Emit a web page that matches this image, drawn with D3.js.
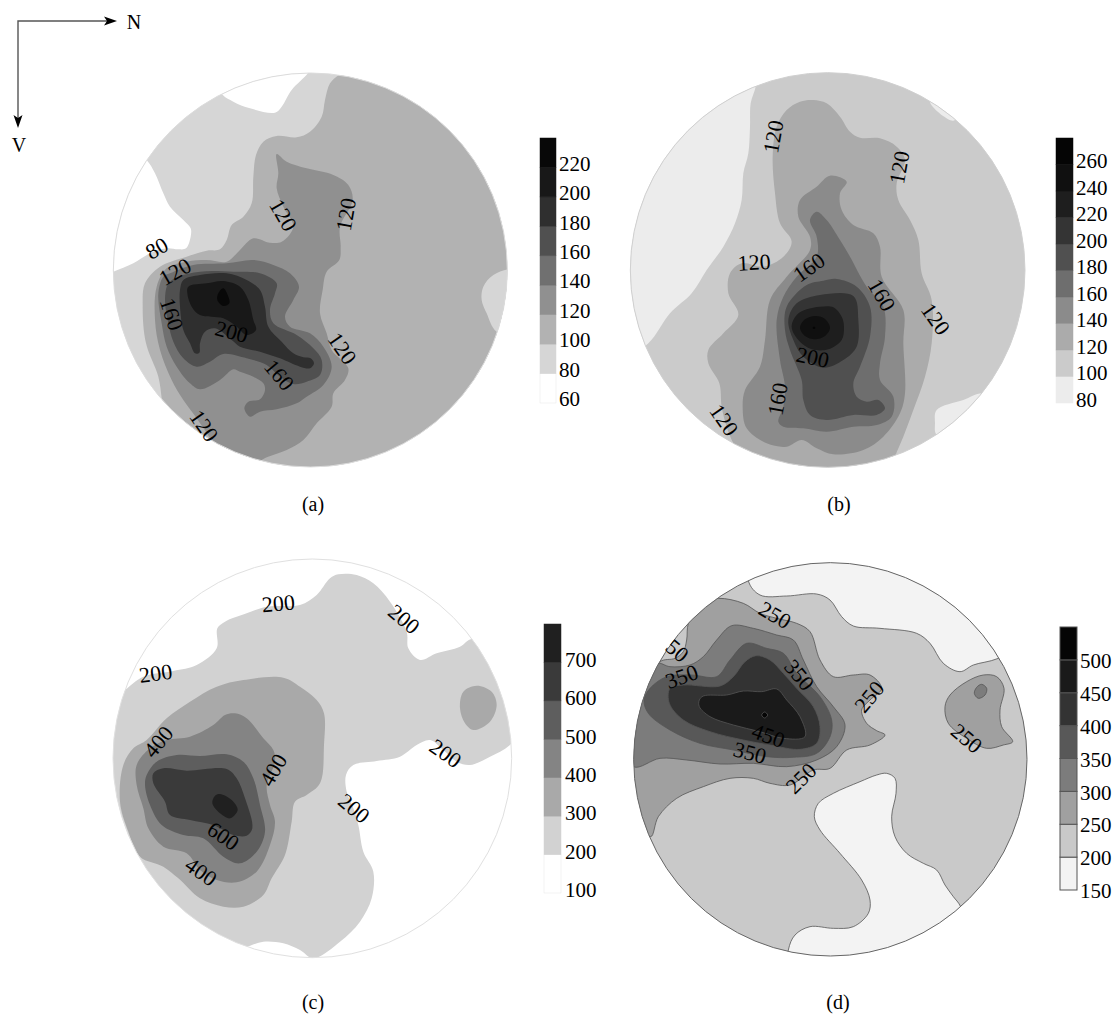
<!DOCTYPE html>
<html><head><meta charset="utf-8">
<script src="https://cdn.jsdelivr.net/npm/d3@7"></script>
<style>html,body{margin:0;padding:0;background:#fff}svg{display:block}text{font-family:"Liberation Serif",serif;fill:#000}</style>
</head><body><svg id="c" width="1113" height="1017"></svg>
<script>
// Legend values
const aLevels=[60,80,100,120,140,160,180,200,220,240];
const aColors=["#ffffff","#d6d6d6","#b2b2b2","#909090","#707070","#505050","#2f2f2f","#181818","#080808"];
const bLevels=[80,100,120,140,160,180,200,220,240,260,280];
const bColors=["#ececec","#cbcbcb","#ababab","#8b8b8b","#6e6e6e","#505050","#343434","#1e1e1e","#101010","#050505"];
const cLevels=[100,200,300,400,500,600,700,800];
const cColors=["#ffffff","#d2d2d2","#a9a9a9","#848484","#5e5e5e","#3a3a3a","#202020"];
const dLevels=[150,200,250,300,350,400,450,500,550];
const dColors=["#f3f3f3","#c9c9c9","#a0a0a0","#7c7c7c","#585858","#333333","#1a1a1a","#050505"];

// Contour outlines, panel (a)
const a60top=[[365,100],[400,125],[450,145],[525,158],[545,140],[575,90],[625,38],[640,10],[500,10],[370,50]];
const a60left=[[140,300],[165,340],[190,400],[210,440],[250,480],[272,505],[272,530],[258,565],[235,568],[200,565],[150,580],[100,610],[40,635],[0,650],[0,300],[90,260]];
const a100=[[718,44],[690,70],[675,120],[665,170],[630,215],[590,232],[530,228],[490,245],[468,285],[460,350],[455,430],[430,470],[395,495],[380,540],[360,568],[320,572],[260,590],[180,620],[135,670],[128,740],[138,850],[175,950],[185,1015],[190,1060],[300,1300],[1300,1300],[1300,0],[800,0]];
const a80right=[[1240,625],[1180,645],[1150,680],[1145,720],[1160,760],[1190,815],[1280,830],[1290,630]];
const a120=[[530,282],[560,305],[620,325],[700,345],[745,375],[758,420],[720,500],[722,560],[718,600],[680,635],[668,690],[660,760],[680,820],[695,870],[745,925],[735,960],[700,1000],[695,1040],[650,1090],[610,1140],[560,1170],[480,1203],[430,1260],[390,1240],[340,1150],[290,1075],[250,1020],[215,960],[180,870],[165,780],[170,680],[200,625],[260,605],[320,600],[380,605],[420,570],[460,535],[510,548],[545,545],[580,500],[550,440],[530,385],[535,340]];
const a140=[[210,640],[280,615],[380,610],[460,600],[520,615],[570,640],[597,680],[580,720],[555,770],[570,800],[630,820],[670,860],[695,920],[670,975],[620,1010],[590,1030],[530,1048],[480,1055],[450,1070],[433,1045],[445,1025],[480,1018],[495,990],[490,970],[460,950],[420,935],[400,928],[360,960],[300,988],[270,970],[230,920],[200,860],[185,790],[175,700],[190,650]];
const a160=[[235,650],[300,635],[400,635],[480,640],[530,670],[525,700],[510,750],[520,790],[590,825],[640,865],[665,900],[660,945],[620,965],[580,972],[540,950],[500,915],[440,895],[370,882],[330,905],[290,920],[250,895],[220,845],[205,790],[195,720],[205,670]];
const a180=[[250,660],[300,645],[380,640],[440,660],[480,690],[495,740],[505,800],[545,845],[580,880],[610,892],[632,895],[642,910],[630,925],[600,920],[540,895],[480,875],[420,860],[395,840],[345,805],[315,815],[300,850],[298,878],[285,880],[270,850],[250,810],[240,740],[240,690]];
const a200=[[265,680],[320,670],[370,663],[420,680],[445,720],[460,780],[468,810],[440,825],[410,800],[370,775],[300,765],[275,740],[262,700]];
const a220=[[370,685],[385,710],[388,730],[370,738],[352,720],[355,700]];
const aLabels=[["80",170,565,-30],["120",225,635,-30],["160",215,762,72],["200",395,815,15],["120",550,465,60],["120",738,463,-80],["120",727,865,55],["160",538,945,50],["120",312,1097,55]];

// Panel (b)
const b80left=[[408,75],[392,130],[390,200],[385,280],[370,340],[365,420],[345,490],[310,560],[260,630],[215,700],[150,760],[85,850],[0,900],[0,0],[408,0]];
const b80right=[[1090,1000],[1030,1020],[950,1050],[945,1090],[950,1125],[1100,1200],[1200,1050]];
const b80sliver=[[930,125],[1000,182],[1020,150],[960,100]];
const b120=[[580,120],[620,130],[660,170],[690,215],[720,233],[780,235],[830,260],[855,300],[830,370],[835,420],[870,480],[895,540],[905,640],[935,720],[935,850],[915,950],[880,1050],[850,1130],[825,1190],[800,1280],[400,1260],[340,1150],[320,1100],[305,1040],[298,970],[265,910],[265,870],[310,820],[355,765],[325,700],[330,640],[365,610],[430,620],[490,590],[515,545],[480,490],[465,400],[458,290],[470,200],[500,150],[540,125]];
const b140=[[630,347],[680,365],[660,400],[665,450],[700,495],[760,520],[780,560],[785,650],[850,750],[850,850],[855,1000],[840,1060],[790,1130],[730,1170],[640,1183],[590,1165],[545,1140],[500,1160],[440,1150],[380,1105],[368,1040],[375,990],[420,920],[435,840],[450,720],[500,650],[570,570],[570,530],[535,470],[540,420],[590,380]];
const b160=[[590,455],[620,480],[660,540],[690,590],[740,680],[790,740],[795,830],[780,910],[780,960],[820,1010],[815,1070],[770,1095],[700,1100],[620,1115],[550,1105],[490,1100],[475,1085],[490,1040],[495,980],[480,900],[470,780],[490,710],[530,650],[590,590],[590,530],[570,480]];
const b180=[[650,657],[710,680],[750,740],[750,830],[720,920],[700,970],[710,1010],[740,1025],[775,1020],[795,1045],[770,1065],[700,1065],[620,1080],[570,1065],[550,1020],[545,960],[510,870],[495,810],[500,740],[560,675],[610,662]];
const b200=[[700,708],[715,780],[710,860],[670,900],[610,923],[550,890],[520,840],[505,780],[530,730],[600,705]];
const b220=[[600,740],[640,742],[665,770],[672,800],[665,840],[625,868],[575,868],[535,840],[515,800],[530,765],[560,748]];
const b240=[[585,768],[612,775],[630,803],[615,828],[585,838],[555,828],[540,803],[555,778]];
const b260=[[582,800],[586,803],[582,807],[578,803]];
const bLabels=[["120",460,230,-80],["120",838,322,-80],["120",402,607,-3],["160",567,622,-35],["160",785,705,60],["120",947,777,55],["200",578,892,12],["160",473,1017,-80],["120",312,1080,55]];

// Panel (c)
const c200=[[715,88],[770,90],[820,115],[870,170],[920,260],[925,310],[960,345],[1010,325],[1080,305],[1115,282],[1200,300],[1300,500],[1232,598],[1170,635],[1110,660],[1070,650],[1030,615],[990,585],[950,600],[900,635],[830,648],[760,660],[738,690],[740,740],[760,790],[775,840],[790,920],[820,980],[815,1060],[780,1130],[720,1190],[640,1240],[600,1215],[550,1195],[490,1190],[430,1207],[300,1200],[0,800],[0,500],[75,435],[130,395],[220,378],[290,360],[350,310],[352,250],[375,230],[440,205],[500,185],[600,180],[650,150],[690,100]];
const c300=[[550,398],[600,425],[650,465],[672,505],[672,600],[660,715],[620,750],[585,770],[575,830],[555,930],[515,1000],[490,1050],[430,1085],[370,1085],[300,1060],[235,1000],[190,965],[120,935],[85,860],[60,770],[70,660],[100,610],[140,585],[200,520],[270,470],[350,425],[430,405]];
const c300b=[[1130,422],[1175,440],[1190,480],[1170,530],[1120,555],[1095,535],[1080,490],[1090,440]];
const c400=[[405,505],[440,520],[490,580],[520,615],[525,650],[500,720],[510,780],[525,830],[510,900],[470,980],[410,1012],[350,1005],[300,975],[260,925],[190,905],[145,850],[130,790],[110,720],[110,660],[150,610],[200,585],[270,575],[340,540],[375,510]];
const c500=[[230,630],[300,633],[380,628],[430,650],[460,700],[480,780],[495,860],[470,920],[420,955],[370,935],[310,880],[250,870],[185,840],[150,780],[135,720],[140,690],[170,650]];
const c600=[[190,670],[260,677],[380,672],[410,700],[435,760],[457,850],[440,872],[400,870],[340,840],[270,825],[210,810],[195,770],[160,715],[160,685]];
const c700=[[360,747],[395,765],[413,795],[390,820],[360,805],[337,775],[345,752]];
const cLabels=[["200",535,175,-5],["200",912,222,40],["200",167,385,-8],["200",1037,625,35],["200",762,790,40],["400",175,590,-50],["400",520,675,-60],["400",303,980,35],["600",370,873,35]];

// Panel (d)
const d150top=[[385,62],[420,105],[500,108],[590,102],[630,120],[665,170],[700,198],[780,205],[890,220],[930,250],[970,310],[1020,335],[1060,315],[1135,295],[1300,200],[1000,-50],[400,-50]];
const d150mid=[[800,640],[825,655],[828,700],[815,770],[825,830],[860,880],[910,910],[950,930],[975,975],[1000,1010],[1022,1040],[1100,1300],[500,1300],[505,1170],[525,1125],[570,1100],[640,1105],[700,1100],[745,1060],[750,1020],[725,960],[660,880],[600,810],[583,770],[595,730],[640,700],[720,665],[770,645]];
const d250=[[92,830],[115,770],[170,715],[250,680],[330,655],[400,655],[450,670],[510,675],[580,630],[630,625],[680,570],[750,555],[795,525],[770,512],[740,490],[725,450],[750,420],[785,385],[750,345],[700,345],[640,350],[600,300],[570,215],[530,190],[470,175],[420,160],[370,130],[295,115],[240,130],[205,190],[200,240],[190,275],[165,295],[120,305],[60,400],[0,600]];
const d250b=[[1090,345],[1130,350],[1152,385],[1140,450],[1145,500],[1178,545],[1150,555],[1100,565],[1040,535],[985,490],[975,440],[990,405],[1040,365]];
const d300=[[335,197],[400,205],[470,225],[520,240],[550,300],[590,380],[640,440],[675,495],[650,560],[590,600],[500,620],[400,610],[300,612],[200,600],[120,595],[40,620],[0,500],[60,380],[110,310],[150,320],[210,315],[250,290],[290,240]];
const d300b=[[1085,373],[1100,385],[1095,405],[1075,415],[1063,400],[1070,382]];
const d350=[[380,250],[440,265],[490,280],[530,340],[600,410],[635,480],[630,530],[590,580],[520,592],[440,590],[340,570],[240,550],[150,510],[85,460],[72,420],[90,385],[140,350],[215,345],[290,350],[330,300]];
const d400=[[408,287],[450,300],[490,340],[530,385],[580,440],[600,500],[590,550],[540,568],[450,555],[370,540],[270,515],[190,480],[148,430],[150,385],[190,375],[300,378],[340,350],[375,305]];
const d450=[[250,408],[320,405],[370,393],[425,395],[470,387],[500,420],[540,470],[555,530],[490,535],[420,515],[340,495],[270,470],[238,440],[238,420]];
const d500=[[434,456],[443,465],[434,474],[425,465]];
const dLabels=[["250",465,165,30],["50",172,272,40],["350",185,350,-20],["350",538,345,50],["350",390,578,15],["250",748,410,-50],["250",1040,535,40],["250",543,655,-45],["450",445,527,20]];

const captions=["(a)","(b)","(c)","(d)"];
const axisNames=["N","V"];

const panels=[
 {id:"a",cap:0,x0:100,y0:60,cx:631,cy:630,r:591,rim:"#dcdcdc",rimW:1,levels:aLevels,colors:aColors,base:80,
  layers:[[60,a60top],[60,a60left],[100,a100],[80,a80right],[120,a120],[140,a140],[160,a160],[180,a180],[200,a200],[220,a220]],labels:aLabels,
  bar:[540,556,138,403],labX:559,labDy:-4,capX:313,capY:504,line:null},
 {id:"b",cap:1,x0:620,y0:60,cx:623,cy:630,r:592,rim:"#d0d0d0",rimW:1,levels:bLevels,colors:bColors,base:100,
  layers:[[80,b80left],[80,b80right],[80,b80sliver],[120,b120],[140,b140],[160,b160],[180,b180],[200,b200],[220,b220],[240,b240],[260,b260]],labels:bLabels,
  bar:[1056,1073,138,403],labX:1076,labDy:-3.5,capX:839,capY:504,line:null},
 {id:"c",cap:2,x0:100,y0:545,cx:637,cy:640,r:598,rim:"#e0e0e0",rimW:1,levels:cLevels,colors:cColors,base:100,
  layers:[[200,c200],[300,c300],[300,c300b],[400,c400],[500,c500],[600,c600],[700,c700]],labels:cLabels,
  bar:[544,561,624,893],labX:565,labDy:-3,capX:313,capY:1002,line:null},
 {id:"d",cap:3,x0:620,y0:560,cx:631,cy:598,r:590,rim:"#666",rimW:1,levels:dLevels,colors:dColors,base:200,
  layers:[[150,d150top],[150,d150mid],[250,d250],[250,d250b],[300,d300],[300,d300b],[350,d350],[400,d400],[450,d450],[500,d500]],labels:dLabels,
  bar:[1060,1077,627,890],labX:1080,labDy:1,capX:838,capY:1002,line:"#555"}
];

const svg=d3.select("#c");
const defs=svg.append("defs");
panels.forEach(p=>{
  const x=d3.scaleLinear().domain([0,1260]).range([p.x0,p.x0+420]);
  const y=d3.scaleLinear().domain([0,1260]).range([p.y0,p.y0+420]);
  const color=d3.scaleThreshold().domain(p.levels.slice(1,-1)).range(p.colors);
  const rpx=x(p.r)-x(0);
  defs.append("clipPath").attr("id","clip"+p.id).append("circle").attr("cx",x(p.cx)).attr("cy",y(p.cy)).attr("r",rpx);
  const g=svg.append("g");
  g.append("circle").attr("cx",x(p.cx)).attr("cy",y(p.cy)).attr("r",rpx).attr("fill",color(p.base));
  const line=d3.line().x(d=>x(d[0])).y(d=>y(d[1])).curve(d3.curveCatmullRomClosed.alpha(0.5));
  g.append("g").attr("clip-path",`url(#clip${p.id})`).selectAll("path").data(p.layers).join("path")
    .attr("d",d=>line(d[1])).attr("fill",d=>color(d[0]))
    .attr("stroke",p.line||"none").attr("stroke-width",p.line?0.8:0);
  g.append("circle").attr("cx",x(p.cx)).attr("cy",y(p.cy)).attr("r",rpx).attr("fill","none").attr("stroke",p.rim).attr("stroke-width",p.rimW);
  g.append("g").selectAll("text").data(p.labels).join("text")
    .attr("transform",d=>`translate(${x(d[1])},${y(d[2])}) rotate(${d[3]})`)
    .attr("text-anchor","middle").attr("dominant-baseline","central").attr("font-size",22).text(d=>d[0]);
  // legend
  const n=p.levels.length;
  const ly=d3.scaleLinear().domain([p.levels[0],p.levels[n-1]]).range([p.bar[3],p.bar[2]]);
  const lg=svg.append("g");
  lg.selectAll("rect").data(p.colors).join("rect")
    .attr("x",p.bar[0]).attr("width",p.bar[1]-p.bar[0])
    .attr("y",(d,i)=>ly(p.levels[i+1])).attr("height",(d,i)=>ly(p.levels[i])-ly(p.levels[i+1]))
    .attr("fill",d=>d).attr("stroke",p.line?"#555":(d=>d==="#ffffff"?"#e6e6e6":d)).attr("stroke-width",p.line?1:0.5);
  const ax=d3.axisRight(ly).tickValues(p.levels.slice(0,-1)).tickSize(0).tickPadding(0).tickFormat(d3.format("d"));
  const ag=lg.append("g").attr("transform",`translate(${p.labX},${p.labDy})`).call(ax);
  ag.select(".domain").remove();
  ag.selectAll("text").attr("font-size",21).attr("font-family","Liberation Serif").attr("fill","#000");
  svg.append("text").attr("x",p.capX).attr("y",p.capY).attr("text-anchor","middle").attr("dominant-baseline","central").attr("font-size",20).text(captions[p.cap]);
});
// direction key
const key=svg.append("g");
key.append("path").attr("d","M113,21H18V122").attr("fill","none").attr("stroke","#555").attr("stroke-width",1.4);
key.append("path").attr("d","M117,21L104,16.5L107,21L104,25.5Z").attr("fill","#000");
key.append("path").attr("d","M18,128L13.5,115L18,118L22.5,115Z").attr("fill","#000");
key.append("text").attr("x",134).attr("y",22).attr("text-anchor","middle").attr("dominant-baseline","central").attr("font-size",20).text(axisNames[0]);
key.append("text").attr("x",19).attr("y",145).attr("text-anchor","middle").attr("dominant-baseline","central").attr("font-size",20).text(axisNames[1]);
</script></body></html>
